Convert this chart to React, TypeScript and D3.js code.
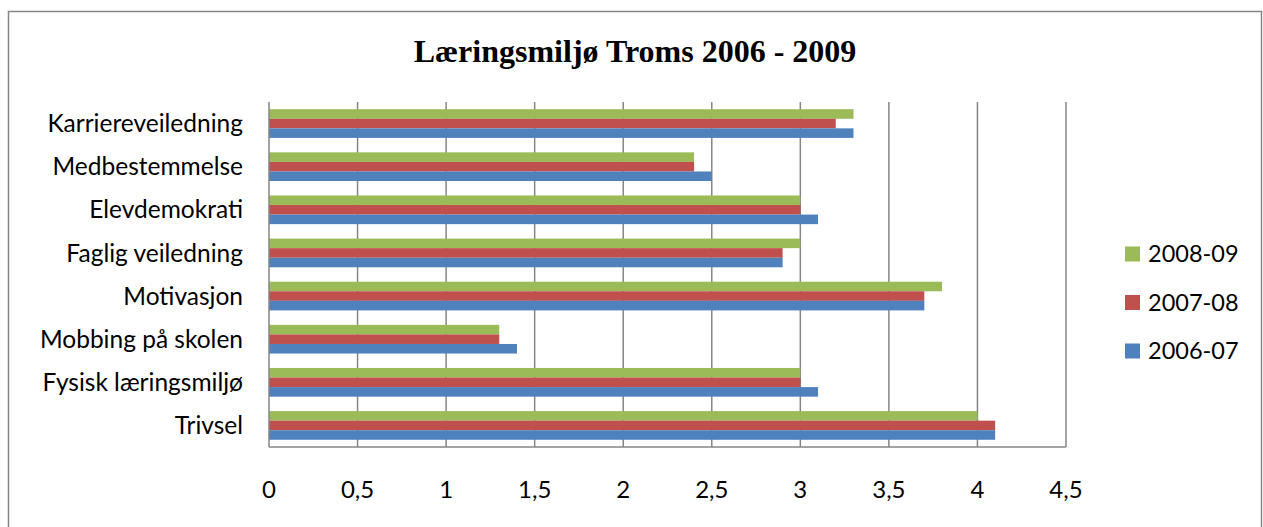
import React from "react";
import * as d3 from "d3";

const categories = [
  "Karriereveiledning",
  "Medbestemmelse",
  "Elevdemokrati",
  "Faglig veiledning",
  "Motivasjon",
  "Mobbing på skolen",
  "Fysisk læringsmiljø",
  "Trivsel",
];
const seriesNames = ["2008-09", "2007-08", "2006-07"];
const values0809 = [3.3, 2.4, 3.0, 3.0, 3.8, 1.3, 3.0, 4.0];
const values0708 = [3.2, 2.4, 3.0, 2.9, 3.7, 1.3, 3.0, 4.1];
const values0607 = [3.3, 2.5, 3.1, 2.9, 3.7, 1.4, 3.1, 4.1];
const tickValues = [0, 0.5, 1, 1.5, 2, 2.5, 3, 3.5, 4, 4.5];
const colors = ["#9BBB59", "#C0504D", "#4F81BD"];

const W = 1263;
const H = 527;
const plot = { left: 269, right: 1066, top: 102, bottom: 447 };

export default function App() {
  const seriesValues = [values0809, values0708, values0607];
  const x = d3.scaleLinear().domain([0, 4.5]).range([plot.left, plot.right]);
  const y = d3
    .scaleBand<string>()
    .domain(categories)
    .range([plot.top, plot.bottom])
    .paddingInner(0.335)
    .paddingOuter(0.1675);
  const inner = d3
    .scaleBand<string>()
    .domain(seriesNames)
    .range([0, y.bandwidth()]);
  const fmt = (v: number) => String(v).replace(".", ",");
  const sans = "Lato, 'Open Sans', sans-serif";

  return (
    <svg
      width={W}
      height={H}
      style={{ position: "absolute", left: 0, top: 0, display: "block" }}
    >
      <rect x={0} y={0} width={W} height={H} fill="#fff" />
      <rect
        x={8.5}
        y={11.5}
        width={1253}
        height={530}
        fill="none"
        stroke="#868686"
        strokeWidth={1.5}
      />
      <text
        x={635}
        y={62}
        textAnchor="middle"
        fontFamily="'Liberation Serif', 'Times New Roman', serif"
        fontWeight="bold"
        fontSize={32}
        fill="#000"
      >
        Læringsmiljø Troms 2006 - 2009
      </text>
      {tickValues.slice(1).map((t) => (
        <line
          key={"g" + t}
          x1={x(t)}
          x2={x(t)}
          y1={plot.top}
          y2={plot.bottom}
          stroke="#868686"
          strokeWidth={1.5}
        />
      ))}
      {categories.map((c, ci) =>
        seriesNames.map((s, si) => (
          <rect
            key={c + s}
            x={x(0)}
            y={(y(c) as number) + (inner(s) as number)}
            width={x(seriesValues[si][ci]) - x(0)}
            height={inner.bandwidth()}
            fill={colors[si]}
          />
        ))
      )}
      <line
        x1={plot.left}
        x2={plot.left}
        y1={plot.top}
        y2={plot.bottom}
        stroke="#868686"
        strokeWidth={1.5}
      />
      <line
        x1={plot.left}
        x2={plot.right}
        y1={plot.bottom}
        y2={plot.bottom}
        stroke="#868686"
        strokeWidth={1.5}
      />
      {categories.map((c) => (
        <text
          key={"l" + c}
          x={243}
          y={(y(c) as number) + y.bandwidth() / 2}
          dy="0.35em"
          textAnchor="end"
          fontFamily={sans}
          fontSize={24.5}
          fill="#000"
        >
          {c}
        </text>
      ))}
      {tickValues.map((t) => (
        <text
          key={"t" + t}
          x={x(t)}
          y={490}
          dy="0.35em"
          textAnchor="middle"
          fontFamily={sans}
          fontSize={24}
          fill="#000"
        >
          {fmt(t)}
        </text>
      ))}
      {seriesNames.map((s, si) => (
        <g key={"lg" + s} transform={`translate(1125, ${254 + si * 48.5})`}>
          <rect x={0} y={-7.5} width={15} height={15} fill={colors[si]} />
          <text
            x={23}
            y={0}
            dy="0.35em"
            fontFamily={sans}
            fontSize={23.5}
            fill="#000"
          >
            {s}
          </text>
        </g>
      ))}
    </svg>
  );
}
